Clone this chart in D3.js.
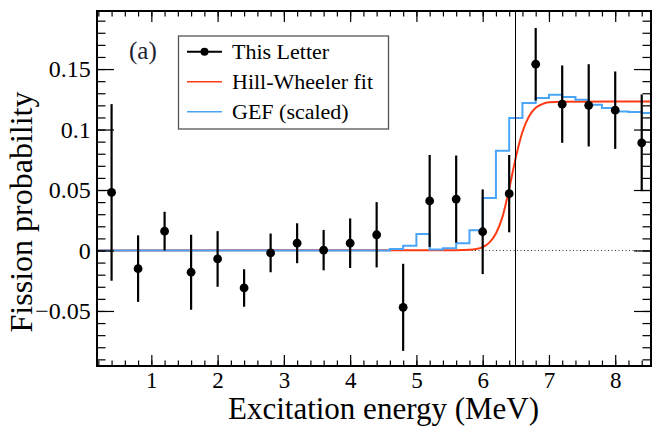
<!doctype html>
<html>
<head>
<meta charset="utf-8">
<title>Fission probability</title>
<script src="https://cdn.jsdelivr.net/npm/d3@7"></script>
<style>
  body{margin:0;background:#fff;}
  svg text{font-family:"Liberation Serif","Times New Roman",serif;fill:#000;}
</style>
</head>
<body>
<svg id="chart" width="652" height="426"></svg>
<script>
// measured points, "This Letter"
var energy  = [0.4, 0.8, 1.2, 1.6, 2.0, 2.4, 2.8, 3.2, 3.6, 4.0, 4.4, 4.8, 5.2, 5.6, 6.0, 6.4, 6.8, 7.2, 7.6, 8.0, 8.4];
var prob    = [0.048, -0.015, 0.016, -0.018, -0.007, -0.031, -0.002, 0.006, 0.0003, 0.006, 0.013, -0.047, 0.041, 0.0425, 0.0155, 0.047, 0.154, 0.121, 0.120, 0.116, 0.089];
var probErr = [0.073, 0.0275, 0.016, 0.031, 0.023, 0.0155, 0.016, 0.0165, 0.0167, 0.0205, 0.027, 0.036, 0.038, 0.036, 0.035, 0.032, 0.030, 0.032, 0.034, 0.032, 0.040];

// Hill-Wheeler fit
var hwEnergy = [0.18, 5.6, 5.8, 5.9, 6.0, 6.1, 6.2, 6.3, 6.4, 6.5, 6.6, 6.7, 6.8, 6.9, 7.0, 7.2, 8.54];
var hwProb   = [0, 0.0003, 0.0006, 0.0012, 0.0028, 0.0065, 0.014, 0.028, 0.051, 0.077, 0.098, 0.111, 0.118, 0.121, 0.1225, 0.123, 0.1232];

// GEF (scaled) histogram, bin lower edges
var gefEdge = [0.18, 4.6, 4.8, 5.0, 5.2, 5.4, 5.6, 5.8, 6.0, 6.2, 6.4, 6.6, 6.8, 7.0, 7.2, 7.4, 7.6, 7.8, 8.0, 8.2, 8.4, 8.6];
var gefProb = [0, 0.0012, 0.0039, 0.0137, 0.0008, 0.0018, 0.006, 0.0168, 0.0433, 0.0825, 0.1095, 0.122, 0.126, 0.1288, 0.1268, 0.1246, 0.1205, 0.1178, 0.115, 0.1145, 0.1136, 0.1136];

var xMajor = [1, 2, 3, 4, 5, 6, 7, 8];
var yMajor = [-0.05, 0, 0.05, 0.1, 0.15];
var yLabels = ["\u22120.05", "0", "0.05", "0.1", "0.15"];
var legendNames = ["This Letter", "Hill-Wheeler fit", "GEF (scaled)"];

var padL = 97, padR = 651, padT = 11, padB = 366;
var redCol = "#ff3b14", blueCol = "#4aa5f7";

var svg = d3.select("#chart");

var x = d3.scaleLinear().domain([0.18, 8.54]).range([padL, padR]);
var y = d3.scaleLinear().domain([-0.0955, 0.198]).range([padB, padT]);

var xMinor = d3.range(0.2, 8.55, 0.2).map(function(d){ return +d.toFixed(1); });
var yMinor = d3.range(-0.09, 0.195, 0.01).map(function(d){ return +d.toFixed(2); });

svg.append("clipPath").attr("id", "plotclip")
   .append("rect").attr("x", padL).attr("y", padT)
   .attr("width", padR - padL).attr("height", padB - padT);

var plot = svg.append("g").attr("clip-path", "url(#plotclip)");

// dotted zero line
plot.append("line")
    .attr("x1", padL).attr("x2", padR)
    .attr("y1", Math.round(y(0)) + 0.5).attr("y2", Math.round(y(0)) + 0.5)
    .attr("stroke", "#333").attr("stroke-width", 1)
    .attr("stroke-dasharray", "1,2.5");

// fit curve
plot.append("path")
    .datum(d3.zip(hwEnergy, hwProb))
    .attr("fill", "none").attr("stroke", redCol).attr("stroke-width", 2)
    .attr("d", d3.line().x(function(d){ return x(d[0]); }).y(function(d){ return y(d[1]); })
                 .curve(d3.curveMonotoneX));

// GEF steps
plot.append("path")
    .datum(d3.zip(gefEdge, gefProb))
    .attr("fill", "none").attr("stroke", blueCol).attr("stroke-width", 2)
    .attr("d", d3.line().x(function(d){ return x(d[0]); }).y(function(d){ return y(d[1]); })
                 .curve(d3.curveStepAfter));

// vertical line at 6.5 MeV
var xv = Math.round(x(6.5)) - 0.5;
plot.append("line")
    .attr("x1", xv).attr("x2", xv)
    .attr("y1", padT).attr("y2", padB)
    .attr("stroke", "#000").attr("stroke-width", 1);

// error bars and points
var pts = d3.range(energy.length);
plot.selectAll("line.err").data(pts).enter().append("line")
    .attr("class", "err")
    .attr("x1", function(i){ return x(energy[i]); })
    .attr("x2", function(i){ return x(energy[i]); })
    .attr("y1", function(i){ return y(prob[i] - probErr[i]); })
    .attr("y2", function(i){ return y(prob[i] + probErr[i]); })
    .attr("stroke", "#000").attr("stroke-width", 2.2);

plot.selectAll("circle").data(pts).enter().append("circle")
    .attr("cx", function(i){ return x(energy[i]); })
    .attr("cy", function(i){ return y(prob[i]); })
    .attr("r", 4.4).attr("fill", "#000");

// axes, ticks inward
function noDomain(g){ g.select(".domain").remove(); g.selectAll(".tick line").attr("stroke", "#000").attr("stroke-width", 1.2); }

svg.append("g").attr("transform", "translate(0," + padB + ")")
   .call(d3.axisBottom(x).tickValues(xMinor).tickSize(-5.5).tickFormat(""))
   .call(noDomain);
svg.append("g").attr("transform", "translate(0," + padB + ")")
   .call(d3.axisBottom(x).tickValues(xMajor).tickSize(-11).tickPadding(5.5).tickFormat(d3.format("d")))
   .call(noDomain)
   .selectAll("text").style("font-size", "23px").style("font-family", "Liberation Serif");

svg.append("g").attr("transform", "translate(0," + padT + ")")
   .call(d3.axisTop(x).tickValues(xMinor).tickSize(-5.5).tickFormat(""))
   .call(noDomain);
svg.append("g").attr("transform", "translate(0," + padT + ")")
   .call(d3.axisTop(x).tickValues(xMajor).tickSize(-11).tickFormat(""))
   .call(noDomain);

svg.append("g").attr("transform", "translate(" + padL + ",0)")
   .call(d3.axisLeft(y).tickValues(yMinor).tickSize(-8.5).tickFormat(""))
   .call(noDomain);
svg.append("g").attr("transform", "translate(" + padL + ",0)")
   .call(d3.axisLeft(y).tickValues(yMajor).tickSize(-17).tickPadding(6.3)
           .tickFormat(function(d, i){ return yLabels[i]; }))
   .call(noDomain)
   .selectAll("text").style("font-size", "24px").style("font-family", "Liberation Serif");

svg.append("g").attr("transform", "translate(" + padR + ",0)")
   .call(d3.axisRight(y).tickValues(yMinor).tickSize(-8.5).tickFormat(""))
   .call(noDomain);
svg.append("g").attr("transform", "translate(" + padR + ",0)")
   .call(d3.axisRight(y).tickValues(yMajor).tickSize(-17).tickFormat(""))
   .call(noDomain);

// frame
svg.append("rect")
   .attr("x", padL).attr("y", padT)
   .attr("width", padR - padL).attr("height", padB - padT)
   .attr("fill", "none").attr("stroke", "#000").attr("stroke-width", 2);

// titles
svg.append("text")
   .attr("x", 383.5).attr("y", 419)
   .attr("text-anchor", "middle").style("font-size", "31px")
   .text("Excitation energy (MeV)");
svg.append("text")
   .attr("transform", "translate(32,212) rotate(-90)")
   .attr("text-anchor", "middle").style("font-size", "32px")
   .text("Fission probability");

// panel tag
svg.append("text")
   .attr("x", 129).attr("y", 59)
   .style("font-size", "25px").style("fill", "#1c2233")
   .text("(a)");

// legend
var lg = svg.append("g");
lg.append("rect")
  .attr("x", 178.5).attr("y", 36).attr("width", 210).attr("height", 93)
  .attr("fill", "#fff").attr("stroke", "#555").attr("stroke-width", 1.3);
var rowY = [51.7, 81.7, 111.7];
var legCol = ["#000", redCol, blueCol];
lg.selectAll("line.key").data(legendNames).enter().append("line")
  .attr("class", "key")
  .attr("x1", 187).attr("x2", 222)
  .attr("y1", function(d, i){ return rowY[i]; })
  .attr("y2", function(d, i){ return rowY[i]; })
  .attr("stroke", function(d, i){ return legCol[i]; })
  .attr("stroke-width", function(d, i){ return i === 0 ? 2 : 1.6; });
lg.append("circle").attr("cx", 204.5).attr("cy", rowY[0]).attr("r", 4).attr("fill", "#000");
lg.selectAll("text.key").data(legendNames).enter().append("text")
  .attr("class", "key")
  .attr("x", 232)
  .attr("y", function(d, i){ return rowY[i] + 7.5; })
  .style("font-size", "22px")
  .text(function(d){ return d; });
</script>
</body>
</html>
